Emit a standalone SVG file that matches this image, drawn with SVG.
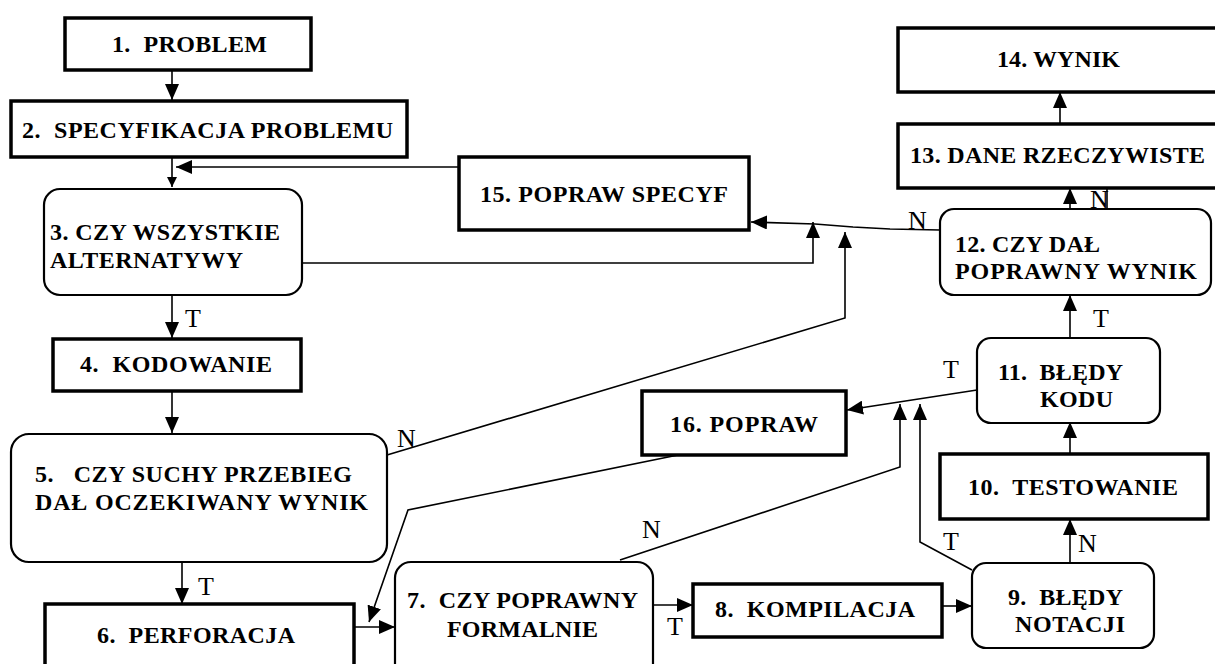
<svg xmlns="http://www.w3.org/2000/svg" width="1215" height="664" viewBox="0 0 1215 664">
<style>
.box{fill:#fff;stroke:#000;stroke-width:3.5}
.rbox{fill:#fff;stroke:#000;stroke-width:2.2}
.t{font-family:"Liberation Serif","Times New Roman",serif;font-weight:bold;font-size:24px;fill:#000;white-space:pre}
.lbl{font-family:"Liberation Serif","Times New Roman",serif;font-size:26px;fill:#000}
.c{fill:none;stroke:#000;stroke-width:1.6}
</style>
<defs>
<marker id="ah" markerUnits="userSpaceOnUse" markerWidth="16" markerHeight="14" refX="16" refY="7" orient="auto">
<path d="M0,0 L16,7 L0,14 z" fill="#000"/>
</marker>
<marker id="ahs" markerUnits="userSpaceOnUse" markerWidth="10" markerHeight="10" refX="10" refY="5" orient="auto">
<path d="M0,0 L10,5 L0,10 z" fill="#000"/>
</marker>
</defs>
<rect width="1215" height="664" fill="#fff"/>
<g id="connectors">
<path class="c" d="M172,71 V100" marker-end="url(#ah)"/>
<path class="c" d="M172,157 V187" marker-end="url(#ahs)"/>
<path class="c" d="M459,167 H176" marker-end="url(#ah)"/>
<path class="c" d="M302,263 H813 V222" marker-end="url(#ah)"/>
<path class="c" d="M940,230 L890,229 L853,227 L815,224 L751,222" marker-end="url(#ah)"/>
<path class="c" d="M172,295 V338" marker-end="url(#ah)"/>
<path class="c" d="M172,391 V433" marker-end="url(#ah)"/>
<path class="c" d="M387,455 L845,318 V232" marker-end="url(#ah)"/>
<path class="c" d="M182,562 V604" marker-end="url(#ah)"/>
<path class="c" d="M354,627 H395" marker-end="url(#ah)"/>
<path class="c" d="M678,455 L408,510 L369,622" marker-end="url(#ah)"/>
<path class="c" d="M653,605 H693" marker-end="url(#ah)"/>
<path class="c" d="M620,560 L900,467 V404" marker-end="url(#ah)"/>
<path class="c" d="M942,606 H972" marker-end="url(#ah)"/>
<path class="c" d="M972,570 L920,542 V404" marker-end="url(#ah)"/>
<path class="c" d="M1070,563 V519" marker-end="url(#ah)"/>
<path class="c" d="M1070,453 V422" marker-end="url(#ah)"/>
<path class="c" d="M977,390 L847,410" marker-end="url(#ah)"/>
<path class="c" d="M1070,338 V295" marker-end="url(#ah)"/>
<path class="c" d="M1070,209 V188" marker-end="url(#ah)"/>
<path class="c" d="M1060,123 V92" marker-end="url(#ah)"/>
<path class="c" d="M1107,188 V209"/>
<text class="lbl" x="185" y="327">T</text>
<text class="lbl" x="198" y="595">T</text>
<text class="lbl" x="397" y="447">N</text>
<text class="lbl" x="642" y="538">N</text>
<text class="lbl" x="667" y="635">T</text>
<text class="lbl" x="943" y="378">T</text>
<text class="lbl" x="943" y="550">T</text>
<text class="lbl" x="1078" y="552">N</text>
<text class="lbl" x="1093" y="327">T</text>
<text class="lbl" x="1090" y="208">N</text>
<text class="lbl" x="908" y="229">N</text>
</g>
<g id="n1"><rect class="box" x="65" y="18" width="246" height="52"/><text class="t" x="112" y="52" textLength="155" lengthAdjust="spacing">1.  PROBLEM</text></g>
<g id="n2"><rect class="box" x="11" y="101" width="396" height="56"/><text class="t" x="22" y="138" textLength="371" lengthAdjust="spacing">2.  SPECYFIKACJA PROBLEMU</text></g>
<g id="n3"><rect class="rbox" x="44" y="189" width="258" height="106" rx="16"/><text class="t" x="50" y="240" textLength="230" lengthAdjust="spacing">3. CZY WSZYSTKIE</text><text class="t" x="50" y="268" textLength="193" lengthAdjust="spacing">ALTERNATYWY</text></g>
<g id="n4"><rect class="box" x="53" y="339" width="248" height="52"/><text class="t" x="80" y="372" textLength="192" lengthAdjust="spacing">4.  KODOWANIE</text></g>
<g id="n5"><rect class="rbox" x="11" y="434" width="376" height="128" rx="18"/><text class="t" x="35" y="482" textLength="317" lengthAdjust="spacing">5.   CZY SUCHY PRZEBIEG</text><text class="t" x="35" y="510" textLength="333" lengthAdjust="spacing">DAŁ OCZEKIWANY WYNIK</text></g>
<g id="n6"><rect class="box" x="45" y="604" width="309" height="80"/><text class="t" x="97" y="643" textLength="198" lengthAdjust="spacing">6.  PERFORACJA</text></g>
<g id="n7"><rect class="rbox" x="395" y="562" width="258" height="120" rx="16"/><text class="t" x="407" y="608" textLength="231" lengthAdjust="spacing">7.  CZY POPRAWNY</text><text class="t" x="447" y="637" textLength="151" lengthAdjust="spacing">FORMALNIE</text></g>
<g id="n8"><rect class="box" x="693" y="584" width="249" height="53"/><text class="t" x="715" y="617" textLength="200" lengthAdjust="spacing">8.  KOMPILACJA</text></g>
<g id="n9"><rect class="rbox" x="972" y="563" width="182" height="85" rx="14"/><text class="t" x="1008" y="605" textLength="115" lengthAdjust="spacing">9.  BŁĘDY</text><text class="t" x="1015" y="632" textLength="110" lengthAdjust="spacing">NOTACJI</text></g>
<g id="n10"><rect class="box" x="940" y="454" width="268" height="65"/><text class="t" x="968" y="495" textLength="210" lengthAdjust="spacing">10.  TESTOWANIE</text></g>
<g id="n11"><rect class="rbox" x="977" y="338" width="183" height="85" rx="14"/><text class="t" x="998" y="380" textLength="125" lengthAdjust="spacing">11.  BŁĘDY</text><text class="t" x="1040" y="407" textLength="73" lengthAdjust="spacing">KODU</text></g>
<g id="n12"><rect class="rbox" x="940" y="209" width="271" height="86" rx="14"/><text class="t" x="955" y="252" textLength="145" lengthAdjust="spacing">12. CZY DAŁ</text><text class="t" x="955" y="279" textLength="242" lengthAdjust="spacing">POPRAWNY WYNIK</text></g>
<g id="n13"><rect class="box" x="898" y="124" width="330" height="64"/><text class="t" x="910" y="163" textLength="295" lengthAdjust="spacing">13. DANE RZECZYWISTE</text></g>
<g id="n14"><rect class="box" x="898" y="28" width="330" height="64"/><text class="t" x="997" y="67" textLength="123" lengthAdjust="spacing">14. WYNIK</text></g>
<g id="n15"><rect class="box" x="459" y="157" width="290" height="73"/><text class="t" x="480" y="202" textLength="248" lengthAdjust="spacing">15. POPRAW SPECYF</text></g>
<g id="n16"><rect class="box" x="642" y="391" width="204" height="64"/><text class="t" x="670" y="432" textLength="148" lengthAdjust="spacing">16. POPRAW</text></g>
</svg>
